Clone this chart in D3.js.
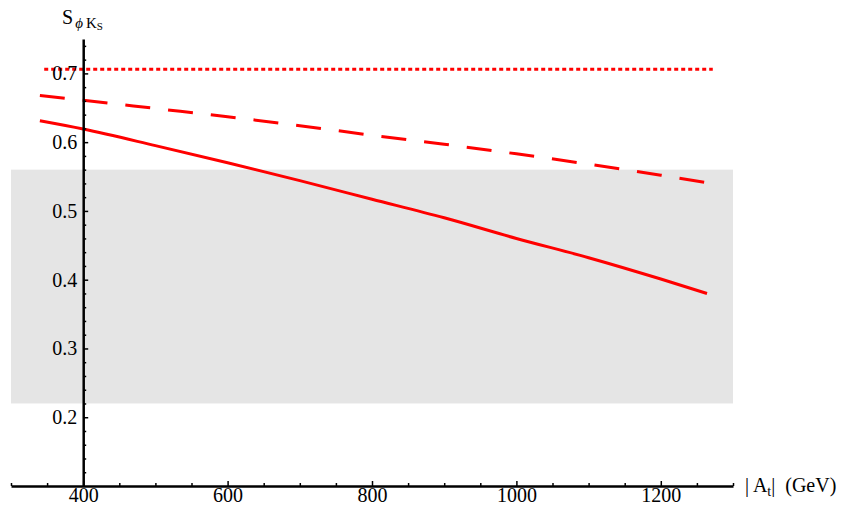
<!DOCTYPE html>
<html>
<head>
<meta charset="utf-8">
<script src="https://cdn.jsdelivr.net/npm/d3@7"></script>
<style>
  body { margin: 0; background: #fff; }
  svg { display: block; }
</style>
</head>
<body>
<div id="chart-area"></div>
<script>
// Data
var atValues = [340, 400, 500, 600, 700, 800, 900, 1000, 1100, 1200, 1264]
var solidS = [0.631, 0.619, 0.595, 0.570, 0.544, 0.517, 0.490, 0.460, 0.432, 0.401, 0.380]
var dashedS = [0.668, 0.661, 0.649, 0.637, 0.624, 0.610, 0.597, 0.583, 0.568, 0.552, 0.541]
var dottedAt = [346, 1272]
var dottedS = [0.706, 0.706]
var bandS = [0.22, 0.56]
var xMajor = [400, 600, 800, 1000, 1200]
var yMajor = [0.2, 0.3, 0.4, 0.5, 0.6, 0.7]

var width = 843
var height = 506
var serif = 'Liberation Serif, DejaVu Serif, serif'

var svg = d3.select('#chart-area')
    .append('svg')
        .attr('width', width)
        .attr('height', height)
        .style('font-family', serif)

// Scales
var x = d3.scaleLinear()
    .domain([300, 1300])
    .range([11, 733])

var y = d3.scaleLinear()
    .domain([0.1, 0.75])
    .range([486, 39])

// shaded band
svg.append('rect')
    .attr('x', x(300))
    .attr('width', x(1300) - x(300))
    .attr('y', y(bandS[1]))
    .attr('height', y(bandS[0]) - y(bandS[1]))
    .attr('fill', '#e5e5e5')

// lines
var line = d3.line()
    .x(d => x(d[0]))
    .y(d => y(d[1]))
    .curve(d3.curveMonotoneX)

svg.append('path')
    .datum(d3.zip(dottedAt, dottedS))
    .attr('d', line)
    .attr('fill', 'none')
    .attr('stroke', '#ff0000')
    .attr('stroke-width', 3)
    .attr('stroke-dasharray', '4,3')

svg.append('path')
    .datum(d3.zip(atValues, dashedS))
    .attr('d', line)
    .attr('fill', 'none')
    .attr('stroke', '#ff0000')
    .attr('stroke-width', 3)
    .attr('stroke-dasharray', '25,18')

svg.append('path')
    .datum(d3.zip(atValues, solidS))
    .attr('d', line)
    .attr('fill', 'none')
    .attr('stroke', '#ff0000')
    .attr('stroke-width', 3)

function styleAxis (g) {
    g.select('.domain').attr('stroke-width', 2.5)
    g.selectAll('.tick line').attr('stroke-width', 1.5)
    g.selectAll('.tick text')
        .attr('fill', '#000')
        .style('font-family', serif)
        .style('font-size', '20px')
}

// X axis (ticks point up into the plot)
var xMinor = d3.range(300, 1301, 50).filter(v => xMajor.indexOf(v) < 0)

svg.append('g')
    .attr('class', 'x axis minor')
    .attr('transform', `translate(0, ${y(0.1)})`)
    .call(d3.axisBottom(x).tickValues(xMinor).tickSize(-3).tickFormat(''))
    .call(g => g.select('.domain').remove())
    .selectAll('line').attr('stroke-width', 1.5)

svg.append('g')
    .attr('class', 'x axis')
    .attr('transform', `translate(0, ${y(0.1)})`)
    .call(d3.axisBottom(x).tickValues(xMajor).tickSize(-5).tickSizeOuter(0).tickPadding(2)
        .tickFormat(d3.format('d')))
    .call(styleAxis)

// Y axis at At = 400 (ticks point right)
var yMinor = d3.range(6, 38).map(v => +(v * 0.02).toFixed(2))
    .filter(v => yMajor.every(m => Math.abs(m - v) > 1e-6))

svg.append('g')
    .attr('class', 'y axis minor')
    .attr('transform', `translate(${x(400)}, 0)`)
    .call(d3.axisLeft(y).tickValues(yMinor).tickSize(-3).tickFormat(''))
    .call(g => g.select('.domain').remove())
    .selectAll('line').attr('stroke-width', 1.5)

svg.append('g')
    .attr('class', 'y axis')
    .attr('transform', `translate(${x(400)}, 0)`)
    .call(d3.axisLeft(y).tickValues(yMajor).tickSize(-5).tickSizeOuter(0).tickPadding(6)
        .tickFormat(d3.format('.1f')))
    .call(styleAxis)

// y label
var yLabel = svg.append('text')
    .attr('x', 62)
    .attr('y', 24)
    .attr('fill', '#000')
    .style('font-size', '20px')
yLabel.append('tspan').text('S')
yLabel.append('tspan').style('font-size', '15px').attr('dy', 4).attr('dx', 2)
    .attr('font-style', 'italic').text('\u03d5')
yLabel.append('tspan').style('font-size', '15px').attr('dx', 3).text('K')
yLabel.append('tspan').style('font-size', '11px').attr('dy', 2).text('S')

// x label
var xLabel = svg.append('text')
    .attr('x', 745)
    .attr('y', 492)
    .attr('fill', '#000')
    .style('font-size', '20px')
xLabel.append('tspan').text('| A')
xLabel.append('tspan').style('font-size', '14px').attr('dy', 4).text('t')
xLabel.append('tspan').attr('dy', -4).text('|\u00a0 (GeV)')
</script>
</body>
</html>
